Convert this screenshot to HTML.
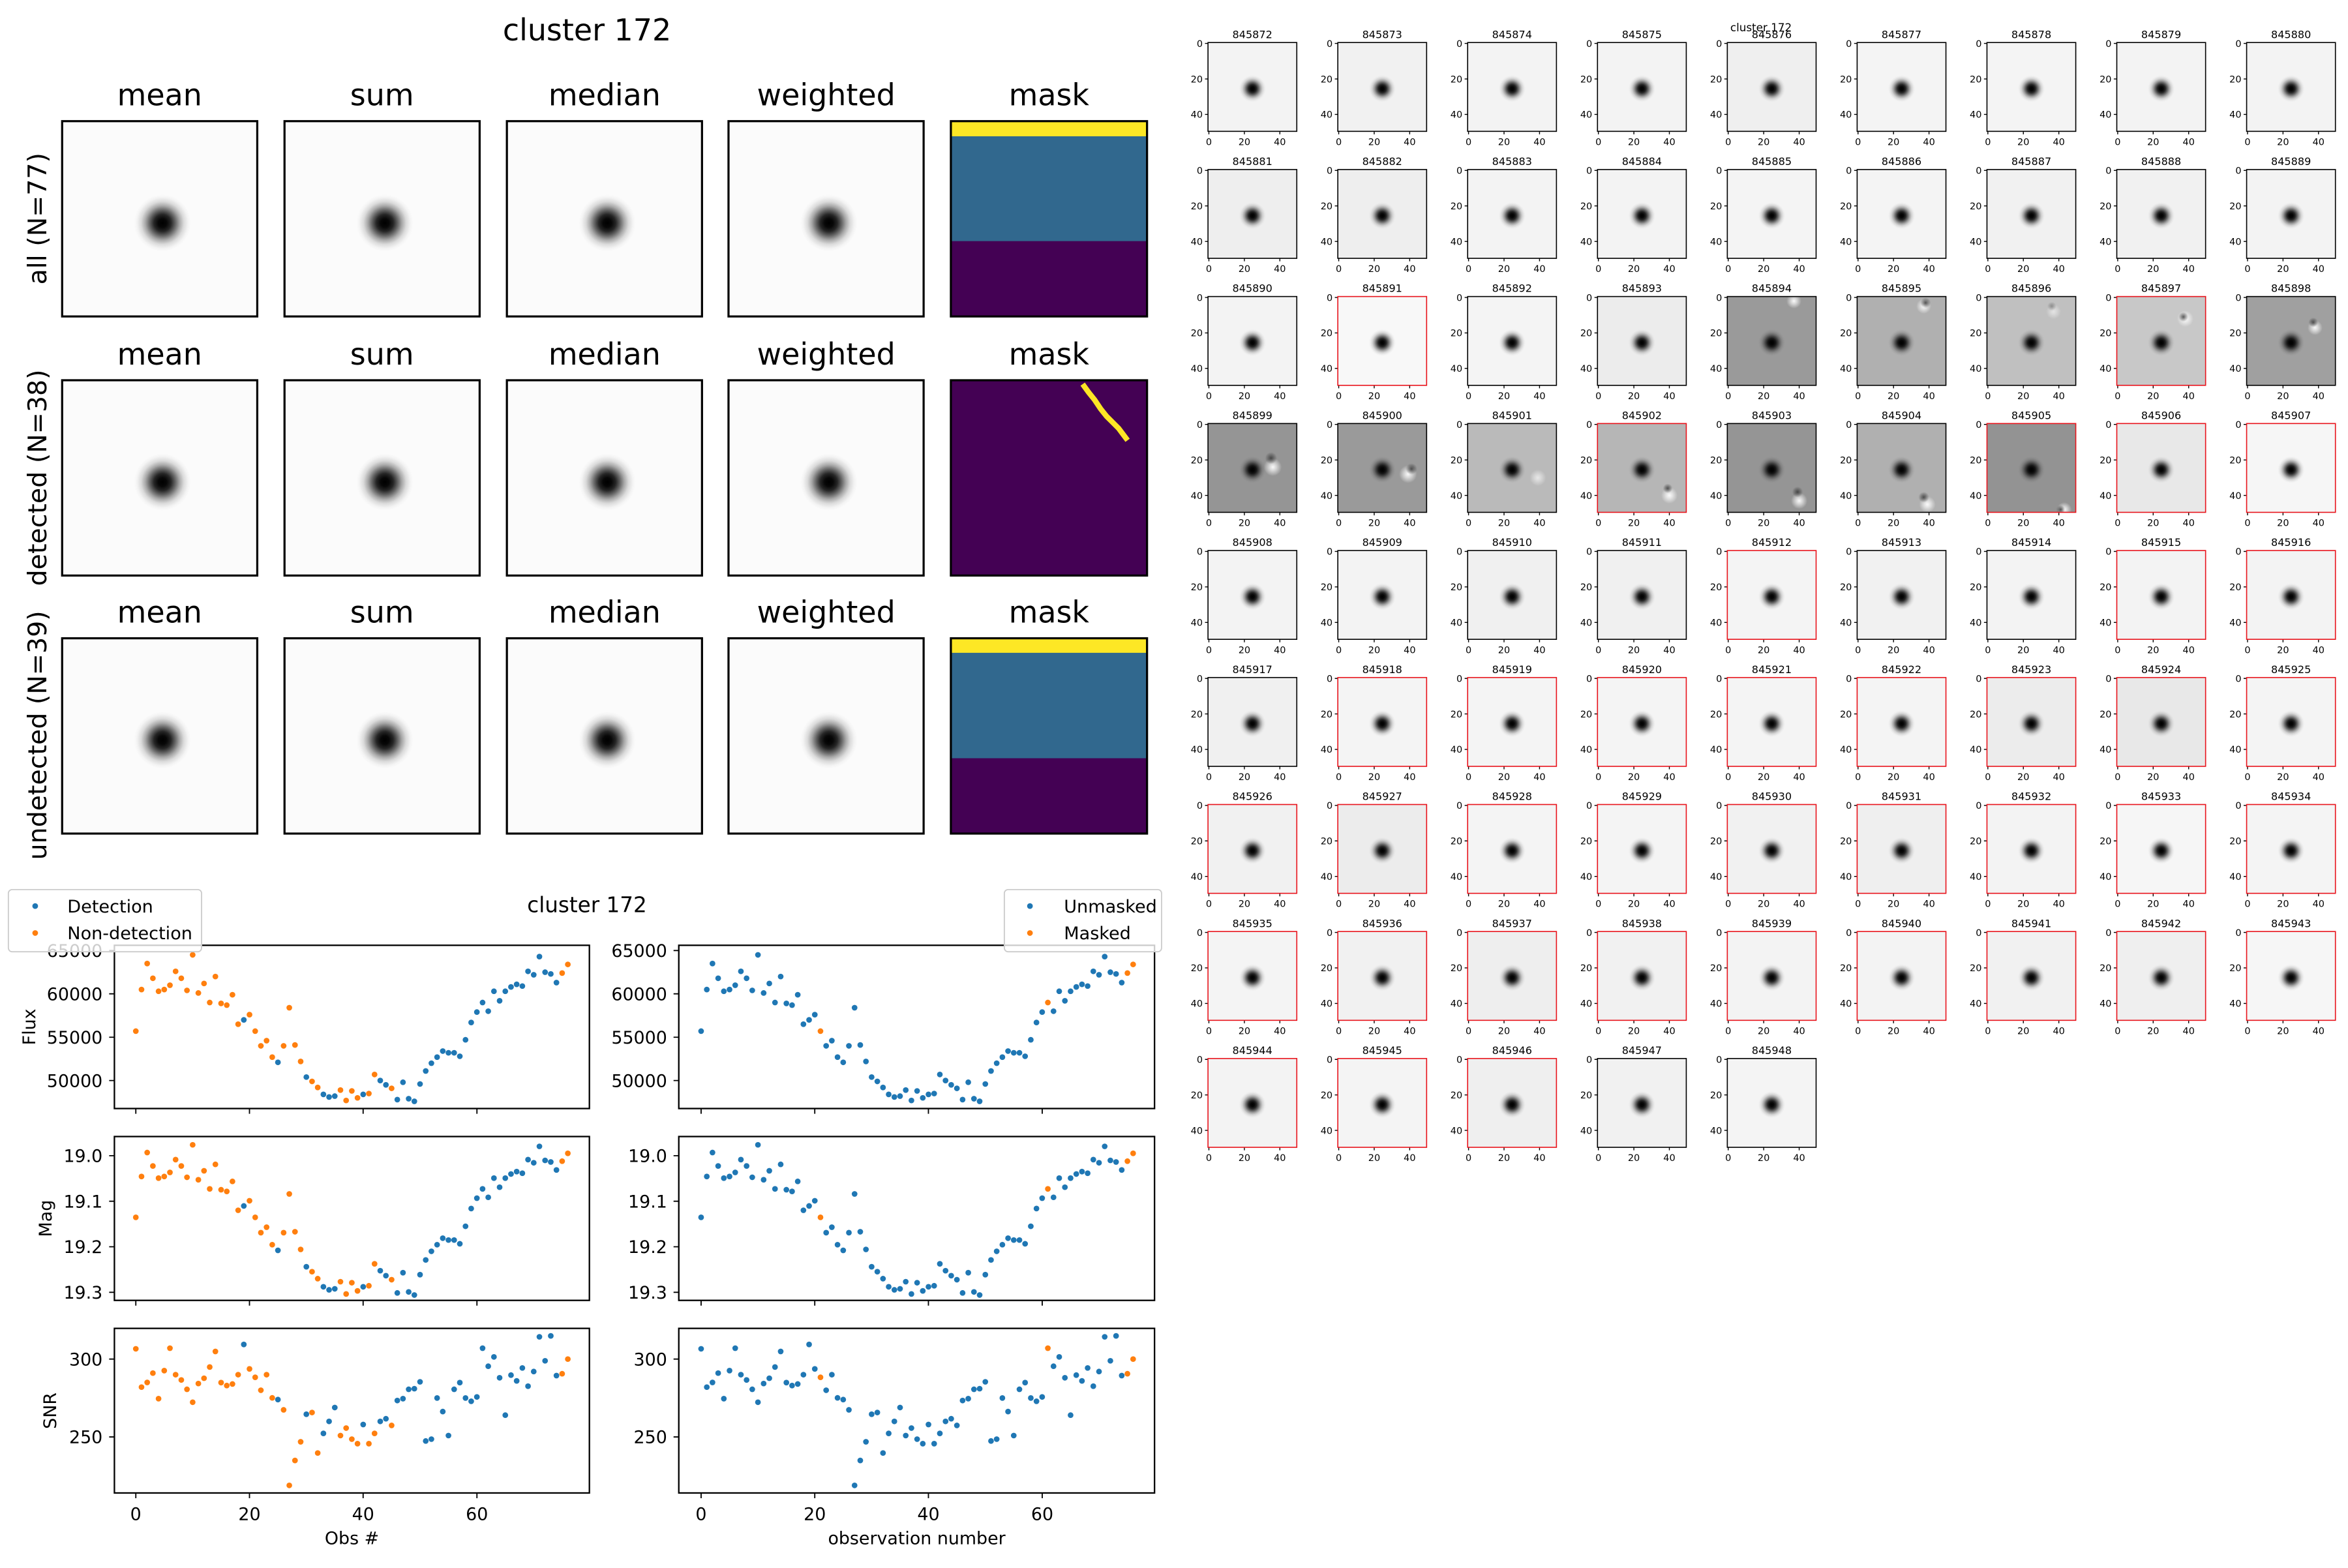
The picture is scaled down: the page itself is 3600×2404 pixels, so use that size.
<!DOCTYPE html>
<html><head><meta charset="utf-8">
<style>
html,body{margin:0;padding:0;background:#fff}
svg{display:block}
text{font-family:"DejaVu Sans","Liberation Sans",sans-serif;fill:#000}
.h{font-size:7px;text-anchor:middle}
.e{font-size:6.3px;text-anchor:end}
.m{font-size:6.3px;text-anchor:middle}
.f{fill:none;stroke:#000;stroke-width:.7}
.r{stroke:#e8141c}
.T{font-size:20px;text-anchor:middle}
.R{font-size:17.2px;text-anchor:middle}
.k{font-size:11.7px;text-anchor:end}
.kx{font-size:11.7px;text-anchor:middle}
.L{font-size:11.7px;text-anchor:middle}
.lg{font-size:11.8px}
.F{fill:none;stroke:#000;stroke-width:1}
.tk{stroke:#000;stroke-width:.8}
</style></head><body>
<svg id="S" width="3600" height="2404" viewBox="0 0 1568 1047" preserveAspectRatio="none" xmlns="http://www.w3.org/2000/svg">
<defs>
<radialGradient id="gs">
<stop offset="0" stop-color="#000" stop-opacity="1"/>
<stop offset="0.15" stop-color="#000" stop-opacity="0.97"/>
<stop offset="0.3" stop-color="#000" stop-opacity="0.85"/>
<stop offset="0.45" stop-color="#000" stop-opacity="0.6"/>
<stop offset="0.6" stop-color="#000" stop-opacity="0.33"/>
<stop offset="0.75" stop-color="#000" stop-opacity="0.13"/>
<stop offset="0.9" stop-color="#000" stop-opacity="0.03"/>
<stop offset="1" stop-color="#000" stop-opacity="0"/>
</radialGradient>
<radialGradient id="gw">
<stop offset="0" stop-color="#fff" stop-opacity="0.95"/>
<stop offset="0.4" stop-color="#fff" stop-opacity="0.6"/>
<stop offset="1" stop-color="#fff" stop-opacity="0"/>
</radialGradient>
<radialGradient id="gd">
<stop offset="0" stop-color="#333" stop-opacity="0.8"/>
<stop offset="1" stop-color="#333" stop-opacity="0"/>
</radialGradient>
<clipPath id="cp"><rect width="59.3" height="59.3"/></clipPath>
<g id="p"><circle cx="29.7" cy="30.8" r="9" fill="url(#gs)"/><path d="M0 0.6h-2M0 24.3h-2M0 48h-2M0.6 59.3v2M24.3 59.3v2M48 59.3v2" stroke="#000" stroke-width=".6"/></g>
<g id="bs"><rect width="130.3" height="130.4" fill="#fbfbfb"/><circle cx="67" cy="68" r="19" fill="url(#gs)"/><rect width="130.3" height="130.4" fill="none" stroke="#000" stroke-width="1.4"/></g>
</defs>

<text x="392" y="27" style="font-size:20px;text-anchor:middle">cluster 172</text>

<text class="T" x="106.6" y="70.4">mean</text><text class="T" x="255.1" y="70.4">sum</text><text class="T" x="403.7" y="70.4">median</text><text class="T" x="551.7" y="70.4">weighted</text><text class="T" x="700.5" y="70.4">mask</text>
<text class="T" x="106.6" y="243.4">mean</text><text class="T" x="255.1" y="243.4">sum</text><text class="T" x="403.7" y="243.4">median</text><text class="T" x="551.7" y="243.4">weighted</text><text class="T" x="700.5" y="243.4">mask</text>
<text class="T" x="106.6" y="415.7">mean</text><text class="T" x="255.1" y="415.7">sum</text><text class="T" x="403.7" y="415.7">median</text><text class="T" x="551.7" y="415.7">weighted</text><text class="T" x="700.5" y="415.7">mask</text>

<text class="R" transform="translate(31,146) rotate(-90)">all (N=77)</text>
<text class="R" transform="translate(31,319) rotate(-90)">detected (N=38)</text>
<text class="R" transform="translate(31,491) rotate(-90)">undetected (N=39)</text>

<use href="#bs" x="41.5" y="80.9"/><use href="#bs" x="190" y="80.9"/><use href="#bs" x="338.5" y="80.9"/><use href="#bs" x="486.5" y="80.9"/>
<use href="#bs" x="41.5" y="253.9"/><use href="#bs" x="190" y="253.9"/><use href="#bs" x="338.5" y="253.9"/><use href="#bs" x="486.5" y="253.9"/>
<use href="#bs" x="41.5" y="426.2"/><use href="#bs" x="190" y="426.2"/><use href="#bs" x="338.5" y="426.2"/><use href="#bs" x="486.5" y="426.2"/>

<rect x="635" y="80.9" width="131" height="130.4" fill="#440154"/>
<rect x="635" y="80.9" width="131" height="80.1" fill="#31688e"/>
<rect x="635" y="80.9" width="131" height="10.1" fill="#fde725"/>
<rect x="635" y="80.9" width="131" height="130.4" fill="none" stroke="#000" stroke-width="1.4"/>

<rect x="635" y="253.9" width="131" height="130.4" fill="#440154"/>
<path d="M723 256.5 L727 262 L731 267 L735 273 L739 278 L743 282 L747 286 L750 290 L753 294" fill="none" stroke="#fde725" stroke-width="3.6" stroke-linejoin="miter"/>
<rect x="635" y="253.9" width="131" height="130.4" fill="none" stroke="#000" stroke-width="1.4"/>

<rect x="635" y="426.2" width="131" height="130.4" fill="#440154"/>
<rect x="635" y="426.2" width="131" height="80.1" fill="#31688e"/>
<rect x="635" y="426.2" width="131" height="9.7" fill="#fde725"/>
<rect x="635" y="426.2" width="131" height="130.4" fill="none" stroke="#000" stroke-width="1.4"/>

<text x="392" y="609" style="font-size:14.2px;text-anchor:middle">cluster 172</text>

<g id="frames">
<rect class="F" x="76.4" y="631.2" width="317.2" height="109"/>
<rect class="F" x="76.4" y="758.9" width="317.2" height="109.4"/>
<rect class="F" x="76.4" y="887" width="317.2" height="109.9"/>
<rect class="F" x="453.3" y="631.2" width="317.7" height="109"/>
<rect class="F" x="453.3" y="758.9" width="317.7" height="109.4"/>
<rect class="F" x="453.3" y="887" width="317.7" height="109.9"/>
</g>
<path class="tk" d="
M76.4 634.7h-3.5M76.4 663.6h-3.5M76.4 692.6h-3.5M76.4 721.5h-3.5
M76.4 771.7h-3.5M76.4 802.1h-3.5M76.4 832.5h-3.5M76.4 862.9h-3.5
M76.4 907.5h-3.5M76.4 959.5h-3.5
M453.3 634.7h-3.5M453.3 663.6h-3.5M453.3 692.6h-3.5M453.3 721.5h-3.5
M453.3 771.7h-3.5M453.3 802.1h-3.5M453.3 832.5h-3.5M453.3 862.9h-3.5
M453.3 907.5h-3.5M453.3 959.5h-3.5
M90.7 740.2v3.5M166.6 740.2v3.5M242.5 740.2v3.5M318.5 740.2v3.5
M90.7 868.3v3.5M166.6 868.3v3.5M242.5 868.3v3.5M318.5 868.3v3.5
M90.7 996.9v3.5M166.6 996.9v3.5M242.5 996.9v3.5M318.5 996.9v3.5
M468.2 740.2v3.5M544.1 740.2v3.5M620 740.2v3.5M696 740.2v3.5
M468.2 868.3v3.5M544.1 868.3v3.5M620 868.3v3.5M696 868.3v3.5
M468.2 996.9v3.5M544.1 996.9v3.5M620 996.9v3.5M696 996.9v3.5"/>

<text class="k" x="68.5" y="638.9">65000</text><text class="k" x="68.5" y="667.8">60000</text><text class="k" x="68.5" y="696.8">55000</text><text class="k" x="68.5" y="725.7">50000</text>
<text class="k" x="68.5" y="775.9">19.0</text><text class="k" x="68.5" y="806.3">19.1</text><text class="k" x="68.5" y="836.7">19.2</text><text class="k" x="68.5" y="867.1">19.3</text>
<text class="k" x="68.5" y="911.7">300</text><text class="k" x="68.5" y="963.7">250</text>
<text class="k" x="445.5" y="638.9">65000</text><text class="k" x="445.5" y="667.8">60000</text><text class="k" x="445.5" y="696.8">55000</text><text class="k" x="445.5" y="725.7">50000</text>
<text class="k" x="445.5" y="775.9">19.0</text><text class="k" x="445.5" y="806.3">19.1</text><text class="k" x="445.5" y="836.7">19.2</text><text class="k" x="445.5" y="867.1">19.3</text>
<text class="k" x="445.5" y="911.7">300</text><text class="k" x="445.5" y="963.7">250</text>

<text class="kx" x="90.7" y="1015">0</text><text class="kx" x="166.6" y="1015">20</text><text class="kx" x="242.5" y="1015">40</text><text class="kx" x="318.5" y="1015">60</text>
<text class="kx" x="468.2" y="1015">0</text><text class="kx" x="544.1" y="1015">20</text><text class="kx" x="620" y="1015">40</text><text class="kx" x="696" y="1015">60</text>
<text class="L" x="235" y="1031">Obs #</text>
<text class="L" x="612.2" y="1031">observation number</text>
<text class="L" transform="translate(23.5,685.7) rotate(-90)">Flux</text>
<text class="L" transform="translate(34.5,813.6) rotate(-90)">Mag</text>
<text class="L" transform="translate(37.5,942) rotate(-90)">SNR</text>

<g id="dots"></g>

<rect x="5.6" y="594" width="129" height="41.5" rx="2.5" fill="#fff" fill-opacity="0.8" stroke="#cccccc" stroke-width="0.8"/>
<circle cx="23.5" cy="605" r="1.9" fill="#1f77b4"/><circle cx="23.5" cy="623" r="1.9" fill="#ff7f0e"/>
<text class="lg" x="45" y="609.2">Detection</text><text class="lg" x="45" y="627.2">Non-detection</text>
<rect x="670.7" y="594" width="105" height="41.5" rx="2.5" fill="#fff" fill-opacity="0.8" stroke="#cccccc" stroke-width="0.8"/>
<circle cx="687.8" cy="605" r="1.9" fill="#1f77b4"/><circle cx="687.8" cy="623" r="1.9" fill="#ff7f0e"/>
<text class="lg" x="710.5" y="609.2">Unmasked</text><text class="lg" x="710.5" y="627.2">Masked</text>

<text x="1176" y="21" style="font-size:7.3px;text-anchor:middle">cluster 172</text>

<g transform="translate(806.7,28.4)"><rect width="59.3" height="59.3" fill="#f3f3f3"/><use href="#p"/><rect class="f" width="59.3" height="59.3"/><text class="h" x="29.65" y="-3">845872</text><text class="e"><tspan x="-3.5" y="2.9">0</tspan><tspan x="-3.5" y="26.6">20</tspan><tspan x="-3.5" y="50.3">40</tspan></text><text class="m"><tspan x="0.6" y="68.5">0</tspan><tspan x="24.3" y="68.5">20</tspan><tspan x="48" y="68.5">40</tspan></text></g>
<g transform="translate(893.4,28.4)"><rect width="59.3" height="59.3" fill="#f1f1f1"/><use href="#p"/><rect class="f" width="59.3" height="59.3"/><text class="h" x="29.65" y="-3">845873</text><text class="e"><tspan x="-3.5" y="2.9">0</tspan><tspan x="-3.5" y="26.6">20</tspan><tspan x="-3.5" y="50.3">40</tspan></text><text class="m"><tspan x="0.6" y="68.5">0</tspan><tspan x="24.3" y="68.5">20</tspan><tspan x="48" y="68.5">40</tspan></text></g>
<g transform="translate(980.1,28.4)"><rect width="59.3" height="59.3" fill="#f3f3f3"/><use href="#p"/><rect class="f" width="59.3" height="59.3"/><text class="h" x="29.65" y="-3">845874</text><text class="e"><tspan x="-3.5" y="2.9">0</tspan><tspan x="-3.5" y="26.6">20</tspan><tspan x="-3.5" y="50.3">40</tspan></text><text class="m"><tspan x="0.6" y="68.5">0</tspan><tspan x="24.3" y="68.5">20</tspan><tspan x="48" y="68.5">40</tspan></text></g>
<g transform="translate(1066.8,28.4)"><rect width="59.3" height="59.3" fill="#f3f3f3"/><use href="#p"/><rect class="f" width="59.3" height="59.3"/><text class="h" x="29.65" y="-3">845875</text><text class="e"><tspan x="-3.5" y="2.9">0</tspan><tspan x="-3.5" y="26.6">20</tspan><tspan x="-3.5" y="50.3">40</tspan></text><text class="m"><tspan x="0.6" y="68.5">0</tspan><tspan x="24.3" y="68.5">20</tspan><tspan x="48" y="68.5">40</tspan></text></g>
<g transform="translate(1153.5,28.4)"><rect width="59.3" height="59.3" fill="#efefef"/><use href="#p"/><rect class="f" width="59.3" height="59.3"/><text class="h" x="29.65" y="-3">845876</text><text class="e"><tspan x="-3.5" y="2.9">0</tspan><tspan x="-3.5" y="26.6">20</tspan><tspan x="-3.5" y="50.3">40</tspan></text><text class="m"><tspan x="0.6" y="68.5">0</tspan><tspan x="24.3" y="68.5">20</tspan><tspan x="48" y="68.5">40</tspan></text></g>
<g transform="translate(1240.2,28.4)"><rect width="59.3" height="59.3" fill="#f4f4f4"/><use href="#p"/><rect class="f" width="59.3" height="59.3"/><text class="h" x="29.65" y="-3">845877</text><text class="e"><tspan x="-3.5" y="2.9">0</tspan><tspan x="-3.5" y="26.6">20</tspan><tspan x="-3.5" y="50.3">40</tspan></text><text class="m"><tspan x="0.6" y="68.5">0</tspan><tspan x="24.3" y="68.5">20</tspan><tspan x="48" y="68.5">40</tspan></text></g>
<g transform="translate(1326.9,28.4)"><rect width="59.3" height="59.3" fill="#f4f4f4"/><use href="#p"/><rect class="f" width="59.3" height="59.3"/><text class="h" x="29.65" y="-3">845878</text><text class="e"><tspan x="-3.5" y="2.9">0</tspan><tspan x="-3.5" y="26.6">20</tspan><tspan x="-3.5" y="50.3">40</tspan></text><text class="m"><tspan x="0.6" y="68.5">0</tspan><tspan x="24.3" y="68.5">20</tspan><tspan x="48" y="68.5">40</tspan></text></g>
<g transform="translate(1413.6,28.4)"><rect width="59.3" height="59.3" fill="#f3f3f3"/><use href="#p"/><rect class="f" width="59.3" height="59.3"/><text class="h" x="29.65" y="-3">845879</text><text class="e"><tspan x="-3.5" y="2.9">0</tspan><tspan x="-3.5" y="26.6">20</tspan><tspan x="-3.5" y="50.3">40</tspan></text><text class="m"><tspan x="0.6" y="68.5">0</tspan><tspan x="24.3" y="68.5">20</tspan><tspan x="48" y="68.5">40</tspan></text></g>
<g transform="translate(1500.3,28.4)"><rect width="59.3" height="59.3" fill="#f3f3f3"/><use href="#p"/><rect class="f" width="59.3" height="59.3"/><text class="h" x="29.65" y="-3">845880</text><text class="e"><tspan x="-3.5" y="2.9">0</tspan><tspan x="-3.5" y="26.6">20</tspan><tspan x="-3.5" y="50.3">40</tspan></text><text class="m"><tspan x="0.6" y="68.5">0</tspan><tspan x="24.3" y="68.5">20</tspan><tspan x="48" y="68.5">40</tspan></text></g>

<g transform="translate(806.7,113.2)"><rect width="59.3" height="59.3" fill="#eeeeee"/><use href="#p"/><rect class="f" width="59.3" height="59.3"/><text class="h" x="29.65" y="-3">845881</text><text class="e"><tspan x="-3.5" y="2.9">0</tspan><tspan x="-3.5" y="26.6">20</tspan><tspan x="-3.5" y="50.3">40</tspan></text><text class="m"><tspan x="0.6" y="68.5">0</tspan><tspan x="24.3" y="68.5">20</tspan><tspan x="48" y="68.5">40</tspan></text></g>
<g transform="translate(893.4,113.2)"><rect width="59.3" height="59.3" fill="#eeeeee"/><use href="#p"/><rect class="f" width="59.3" height="59.3"/><text class="h" x="29.65" y="-3">845882</text><text class="e"><tspan x="-3.5" y="2.9">0</tspan><tspan x="-3.5" y="26.6">20</tspan><tspan x="-3.5" y="50.3">40</tspan></text><text class="m"><tspan x="0.6" y="68.5">0</tspan><tspan x="24.3" y="68.5">20</tspan><tspan x="48" y="68.5">40</tspan></text></g>
<g transform="translate(980.1,113.2)"><rect width="59.3" height="59.3" fill="#f3f3f3"/><use href="#p"/><rect class="f" width="59.3" height="59.3"/><text class="h" x="29.65" y="-3">845883</text><text class="e"><tspan x="-3.5" y="2.9">0</tspan><tspan x="-3.5" y="26.6">20</tspan><tspan x="-3.5" y="50.3">40</tspan></text><text class="m"><tspan x="0.6" y="68.5">0</tspan><tspan x="24.3" y="68.5">20</tspan><tspan x="48" y="68.5">40</tspan></text></g>
<g transform="translate(1066.8,113.2)"><rect width="59.3" height="59.3" fill="#f3f3f3"/><use href="#p"/><rect class="f" width="59.3" height="59.3"/><text class="h" x="29.65" y="-3">845884</text><text class="e"><tspan x="-3.5" y="2.9">0</tspan><tspan x="-3.5" y="26.6">20</tspan><tspan x="-3.5" y="50.3">40</tspan></text><text class="m"><tspan x="0.6" y="68.5">0</tspan><tspan x="24.3" y="68.5">20</tspan><tspan x="48" y="68.5">40</tspan></text></g>
<g transform="translate(1153.5,113.2)"><rect width="59.3" height="59.3" fill="#f4f4f4"/><use href="#p"/><rect class="f" width="59.3" height="59.3"/><text class="h" x="29.65" y="-3">845885</text><text class="e"><tspan x="-3.5" y="2.9">0</tspan><tspan x="-3.5" y="26.6">20</tspan><tspan x="-3.5" y="50.3">40</tspan></text><text class="m"><tspan x="0.6" y="68.5">0</tspan><tspan x="24.3" y="68.5">20</tspan><tspan x="48" y="68.5">40</tspan></text></g>
<g transform="translate(1240.2,113.2)"><rect width="59.3" height="59.3" fill="#f4f4f4"/><use href="#p"/><rect class="f" width="59.3" height="59.3"/><text class="h" x="29.65" y="-3">845886</text><text class="e"><tspan x="-3.5" y="2.9">0</tspan><tspan x="-3.5" y="26.6">20</tspan><tspan x="-3.5" y="50.3">40</tspan></text><text class="m"><tspan x="0.6" y="68.5">0</tspan><tspan x="24.3" y="68.5">20</tspan><tspan x="48" y="68.5">40</tspan></text></g>
<g transform="translate(1326.9,113.2)"><rect width="59.3" height="59.3" fill="#f1f1f1"/><use href="#p"/><rect class="f" width="59.3" height="59.3"/><text class="h" x="29.65" y="-3">845887</text><text class="e"><tspan x="-3.5" y="2.9">0</tspan><tspan x="-3.5" y="26.6">20</tspan><tspan x="-3.5" y="50.3">40</tspan></text><text class="m"><tspan x="0.6" y="68.5">0</tspan><tspan x="24.3" y="68.5">20</tspan><tspan x="48" y="68.5">40</tspan></text></g>
<g transform="translate(1413.6,113.2)"><rect width="59.3" height="59.3" fill="#f1f1f1"/><use href="#p"/><rect class="f" width="59.3" height="59.3"/><text class="h" x="29.65" y="-3">845888</text><text class="e"><tspan x="-3.5" y="2.9">0</tspan><tspan x="-3.5" y="26.6">20</tspan><tspan x="-3.5" y="50.3">40</tspan></text><text class="m"><tspan x="0.6" y="68.5">0</tspan><tspan x="24.3" y="68.5">20</tspan><tspan x="48" y="68.5">40</tspan></text></g>
<g transform="translate(1500.3,113.2)"><rect width="59.3" height="59.3" fill="#f3f3f3"/><use href="#p"/><rect class="f" width="59.3" height="59.3"/><text class="h" x="29.65" y="-3">845889</text><text class="e"><tspan x="-3.5" y="2.9">0</tspan><tspan x="-3.5" y="26.6">20</tspan><tspan x="-3.5" y="50.3">40</tspan></text><text class="m"><tspan x="0.6" y="68.5">0</tspan><tspan x="24.3" y="68.5">20</tspan><tspan x="48" y="68.5">40</tspan></text></g>

<g transform="translate(806.7,198)"><rect width="59.3" height="59.3" fill="#f3f3f3"/><use href="#p"/><rect class="f" width="59.3" height="59.3"/><text class="h" x="29.65" y="-3">845890</text><text class="e"><tspan x="-3.5" y="2.9">0</tspan><tspan x="-3.5" y="26.6">20</tspan><tspan x="-3.5" y="50.3">40</tspan></text><text class="m"><tspan x="0.6" y="68.5">0</tspan><tspan x="24.3" y="68.5">20</tspan><tspan x="48" y="68.5">40</tspan></text></g>
<g transform="translate(893.4,198)"><rect width="59.3" height="59.3" fill="#f8f8f8"/><use href="#p"/><rect class="f r" width="59.3" height="59.3"/><text class="h" x="29.65" y="-3">845891</text><text class="e"><tspan x="-3.5" y="2.9">0</tspan><tspan x="-3.5" y="26.6">20</tspan><tspan x="-3.5" y="50.3">40</tspan></text><text class="m"><tspan x="0.6" y="68.5">0</tspan><tspan x="24.3" y="68.5">20</tspan><tspan x="48" y="68.5">40</tspan></text></g>
<g transform="translate(980.1,198)"><rect width="59.3" height="59.3" fill="#f4f4f4"/><use href="#p"/><rect class="f" width="59.3" height="59.3"/><text class="h" x="29.65" y="-3">845892</text><text class="e"><tspan x="-3.5" y="2.9">0</tspan><tspan x="-3.5" y="26.6">20</tspan><tspan x="-3.5" y="50.3">40</tspan></text><text class="m"><tspan x="0.6" y="68.5">0</tspan><tspan x="24.3" y="68.5">20</tspan><tspan x="48" y="68.5">40</tspan></text></g>
<g transform="translate(1066.8,198)"><rect width="59.3" height="59.3" fill="#ececec"/><use href="#p"/><rect class="f" width="59.3" height="59.3"/><text class="h" x="29.65" y="-3">845893</text><text class="e"><tspan x="-3.5" y="2.9">0</tspan><tspan x="-3.5" y="26.6">20</tspan><tspan x="-3.5" y="50.3">40</tspan></text><text class="m"><tspan x="0.6" y="68.5">0</tspan><tspan x="24.3" y="68.5">20</tspan><tspan x="48" y="68.5">40</tspan></text></g>
<g transform="translate(1153.5,198)"><rect width="59.3" height="59.3" fill="#9a9a9a"/><use href="#p"/><g clip-path="url(#cp)"><circle cx="44.5" cy="3" r="5" fill="url(#gw)"/></g><rect class="f" width="59.3" height="59.3"/><text class="h" x="29.65" y="-3">845894</text><text class="e"><tspan x="-3.5" y="2.9">0</tspan><tspan x="-3.5" y="26.6">20</tspan><tspan x="-3.5" y="50.3">40</tspan></text><text class="m"><tspan x="0.6" y="68.5">0</tspan><tspan x="24.3" y="68.5">20</tspan><tspan x="48" y="68.5">40</tspan></text></g>
<g transform="translate(1240.2,198)"><rect width="59.3" height="59.3" fill="#b0b0b0"/><use href="#p"/><g clip-path="url(#cp)"><circle cx="44.5" cy="6.5" r="5" fill="url(#gw)"/><circle cx="45.7" cy="4.2" r="3.5" fill="url(#gd)"/></g><rect class="f" width="59.3" height="59.3"/><text class="h" x="29.65" y="-3">845895</text><text class="e"><tspan x="-3.5" y="2.9">0</tspan><tspan x="-3.5" y="26.6">20</tspan><tspan x="-3.5" y="50.3">40</tspan></text><text class="m"><tspan x="0.6" y="68.5">0</tspan><tspan x="24.3" y="68.5">20</tspan><tspan x="48" y="68.5">40</tspan></text></g>
<g transform="translate(1326.9,198)"><rect width="59.3" height="59.3" fill="#c0c0c0"/><use href="#p"/><g clip-path="url(#cp)"><circle cx="44.5" cy="10.1" r="5" fill="url(#gw)" opacity=".6"/><circle cx="43.3" cy="6.5" r="3" fill="url(#gd)" opacity=".5"/></g><rect class="f" width="59.3" height="59.3"/><text class="h" x="29.65" y="-3">845896</text><text class="e"><tspan x="-3.5" y="2.9">0</tspan><tspan x="-3.5" y="26.6">20</tspan><tspan x="-3.5" y="50.3">40</tspan></text><text class="m"><tspan x="0.6" y="68.5">0</tspan><tspan x="24.3" y="68.5">20</tspan><tspan x="48" y="68.5">40</tspan></text></g>
<g transform="translate(1413.6,198)"><rect width="59.3" height="59.3" fill="#c8c8c8"/><use href="#p"/><g clip-path="url(#cp)"><circle cx="45.7" cy="14.8" r="5.5" fill="url(#gw)"/><circle cx="44.5" cy="13.6" r="3.2" fill="url(#gd)"/></g><rect class="f r" width="59.3" height="59.3"/><text class="h" x="29.65" y="-3">845897</text><text class="e"><tspan x="-3.5" y="2.9">0</tspan><tspan x="-3.5" y="26.6">20</tspan><tspan x="-3.5" y="50.3">40</tspan></text><text class="m"><tspan x="0.6" y="68.5">0</tspan><tspan x="24.3" y="68.5">20</tspan><tspan x="48" y="68.5">40</tspan></text></g>
<g transform="translate(1500.3,198)"><rect width="59.3" height="59.3" fill="#a0a0a0"/><use href="#p"/><g clip-path="url(#cp)"><circle cx="45.7" cy="20.8" r="5" fill="url(#gw)"/><circle cx="44.5" cy="17.2" r="3.2" fill="url(#gd)"/></g><rect class="f" width="59.3" height="59.3"/><text class="h" x="29.65" y="-3">845898</text><text class="e"><tspan x="-3.5" y="2.9">0</tspan><tspan x="-3.5" y="26.6">20</tspan><tspan x="-3.5" y="50.3">40</tspan></text><text class="m"><tspan x="0.6" y="68.5">0</tspan><tspan x="24.3" y="68.5">20</tspan><tspan x="48" y="68.5">40</tspan></text></g>

<g transform="translate(806.7,282.8)"><rect width="59.3" height="59.3" fill="#959595"/><use href="#p"/><g clip-path="url(#cp)"><circle cx="43.3" cy="29.1" r="6" fill="url(#gw)"/><circle cx="42.1" cy="23.1" r="4" fill="url(#gd)"/></g><rect class="f" width="59.3" height="59.3"/><text class="h" x="29.65" y="-3">845899</text><text class="e"><tspan x="-3.5" y="2.9">0</tspan><tspan x="-3.5" y="26.6">20</tspan><tspan x="-3.5" y="50.3">40</tspan></text><text class="m"><tspan x="0.6" y="68.5">0</tspan><tspan x="24.3" y="68.5">20</tspan><tspan x="48" y="68.5">40</tspan></text></g>
<g transform="translate(893.4,282.8)"><rect width="59.3" height="59.3" fill="#9a9a9a"/><use href="#p"/><g clip-path="url(#cp)"><circle cx="46.9" cy="33.8" r="6" fill="url(#gw)"/><circle cx="49.2" cy="30.3" r="3.8" fill="url(#gd)"/></g><rect class="f" width="59.3" height="59.3"/><text class="h" x="29.65" y="-3">845900</text><text class="e"><tspan x="-3.5" y="2.9">0</tspan><tspan x="-3.5" y="26.6">20</tspan><tspan x="-3.5" y="50.3">40</tspan></text><text class="m"><tspan x="0.6" y="68.5">0</tspan><tspan x="24.3" y="68.5">20</tspan><tspan x="48" y="68.5">40</tspan></text></g>
<g transform="translate(980.1,282.8)"><rect width="59.3" height="59.3" fill="#bababa"/><use href="#p"/><g clip-path="url(#cp)"><circle cx="46.9" cy="36.2" r="5.5" fill="url(#gw)" opacity=".7"/></g><rect class="f" width="59.3" height="59.3"/><text class="h" x="29.65" y="-3">845901</text><text class="e"><tspan x="-3.5" y="2.9">0</tspan><tspan x="-3.5" y="26.6">20</tspan><tspan x="-3.5" y="50.3">40</tspan></text><text class="m"><tspan x="0.6" y="68.5">0</tspan><tspan x="24.3" y="68.5">20</tspan><tspan x="48" y="68.5">40</tspan></text></g>
<g transform="translate(1066.8,282.8)"><rect width="59.3" height="59.3" fill="#b6b6b6"/><use href="#p"/><g clip-path="url(#cp)"><circle cx="48" cy="48" r="5.5" fill="url(#gw)"/><circle cx="46.9" cy="43.3" r="3.2" fill="url(#gd)"/></g><rect class="f r" width="59.3" height="59.3"/><text class="h" x="29.65" y="-3">845902</text><text class="e"><tspan x="-3.5" y="2.9">0</tspan><tspan x="-3.5" y="26.6">20</tspan><tspan x="-3.5" y="50.3">40</tspan></text><text class="m"><tspan x="0.6" y="68.5">0</tspan><tspan x="24.3" y="68.5">20</tspan><tspan x="48" y="68.5">40</tspan></text></g>
<g transform="translate(1153.5,282.8)"><rect width="59.3" height="59.3" fill="#959595"/><use href="#p"/><g clip-path="url(#cp)"><circle cx="48" cy="51.6" r="5.5" fill="url(#gw)"/><circle cx="46.9" cy="45.7" r="3.6" fill="url(#gd)"/></g><rect class="f" width="59.3" height="59.3"/><text class="h" x="29.65" y="-3">845903</text><text class="e"><tspan x="-3.5" y="2.9">0</tspan><tspan x="-3.5" y="26.6">20</tspan><tspan x="-3.5" y="50.3">40</tspan></text><text class="m"><tspan x="0.6" y="68.5">0</tspan><tspan x="24.3" y="68.5">20</tspan><tspan x="48" y="68.5">40</tspan></text></g>
<g transform="translate(1240.2,282.8)"><rect width="59.3" height="59.3" fill="#b0b0b0"/><use href="#p"/><g clip-path="url(#cp)"><circle cx="46.9" cy="54" r="5.5" fill="url(#gw)"/><circle cx="44.5" cy="49.2" r="3.6" fill="url(#gd)"/></g><rect class="f" width="59.3" height="59.3"/><text class="h" x="29.65" y="-3">845904</text><text class="e"><tspan x="-3.5" y="2.9">0</tspan><tspan x="-3.5" y="26.6">20</tspan><tspan x="-3.5" y="50.3">40</tspan></text><text class="m"><tspan x="0.6" y="68.5">0</tspan><tspan x="24.3" y="68.5">20</tspan><tspan x="48" y="68.5">40</tspan></text></g>
<g transform="translate(1326.9,282.8)"><rect width="59.3" height="59.3" fill="#939393"/><use href="#p"/><g clip-path="url(#cp)"><circle cx="51.6" cy="57.5" r="5" fill="url(#gw)"/><circle cx="49.2" cy="57.5" r="3" fill="url(#gd)"/></g><rect class="f r" width="59.3" height="59.3"/><text class="h" x="29.65" y="-3">845905</text><text class="e"><tspan x="-3.5" y="2.9">0</tspan><tspan x="-3.5" y="26.6">20</tspan><tspan x="-3.5" y="50.3">40</tspan></text><text class="m"><tspan x="0.6" y="68.5">0</tspan><tspan x="24.3" y="68.5">20</tspan><tspan x="48" y="68.5">40</tspan></text></g>
<g transform="translate(1413.6,282.8)"><rect width="59.3" height="59.3" fill="#e8e8e8"/><use href="#p"/><rect class="f r" width="59.3" height="59.3"/><text class="h" x="29.65" y="-3">845906</text><text class="e"><tspan x="-3.5" y="2.9">0</tspan><tspan x="-3.5" y="26.6">20</tspan><tspan x="-3.5" y="50.3">40</tspan></text><text class="m"><tspan x="0.6" y="68.5">0</tspan><tspan x="24.3" y="68.5">20</tspan><tspan x="48" y="68.5">40</tspan></text></g>
<g transform="translate(1500.3,282.8)"><rect width="59.3" height="59.3" fill="#f6f6f6"/><use href="#p"/><rect class="f r" width="59.3" height="59.3"/><text class="h" x="29.65" y="-3">845907</text><text class="e"><tspan x="-3.5" y="2.9">0</tspan><tspan x="-3.5" y="26.6">20</tspan><tspan x="-3.5" y="50.3">40</tspan></text><text class="m"><tspan x="0.6" y="68.5">0</tspan><tspan x="24.3" y="68.5">20</tspan><tspan x="48" y="68.5">40</tspan></text></g>

<g transform="translate(806.7,367.6)"><rect width="59.3" height="59.3" fill="#f3f3f3"/><use href="#p"/><rect class="f" width="59.3" height="59.3"/><text class="h" x="29.65" y="-3">845908</text><text class="e"><tspan x="-3.5" y="2.9">0</tspan><tspan x="-3.5" y="26.6">20</tspan><tspan x="-3.5" y="50.3">40</tspan></text><text class="m"><tspan x="0.6" y="68.5">0</tspan><tspan x="24.3" y="68.5">20</tspan><tspan x="48" y="68.5">40</tspan></text></g>
<g transform="translate(893.4,367.6)"><rect width="59.3" height="59.3" fill="#f3f3f3"/><use href="#p"/><rect class="f" width="59.3" height="59.3"/><text class="h" x="29.65" y="-3">845909</text><text class="e"><tspan x="-3.5" y="2.9">0</tspan><tspan x="-3.5" y="26.6">20</tspan><tspan x="-3.5" y="50.3">40</tspan></text><text class="m"><tspan x="0.6" y="68.5">0</tspan><tspan x="24.3" y="68.5">20</tspan><tspan x="48" y="68.5">40</tspan></text></g>
<g transform="translate(980.1,367.6)"><rect width="59.3" height="59.3" fill="#f0f0f0"/><use href="#p"/><rect class="f" width="59.3" height="59.3"/><text class="h" x="29.65" y="-3">845910</text><text class="e"><tspan x="-3.5" y="2.9">0</tspan><tspan x="-3.5" y="26.6">20</tspan><tspan x="-3.5" y="50.3">40</tspan></text><text class="m"><tspan x="0.6" y="68.5">0</tspan><tspan x="24.3" y="68.5">20</tspan><tspan x="48" y="68.5">40</tspan></text></g>
<g transform="translate(1066.8,367.6)"><rect width="59.3" height="59.3" fill="#f0f0f0"/><use href="#p"/><rect class="f" width="59.3" height="59.3"/><text class="h" x="29.65" y="-3">845911</text><text class="e"><tspan x="-3.5" y="2.9">0</tspan><tspan x="-3.5" y="26.6">20</tspan><tspan x="-3.5" y="50.3">40</tspan></text><text class="m"><tspan x="0.6" y="68.5">0</tspan><tspan x="24.3" y="68.5">20</tspan><tspan x="48" y="68.5">40</tspan></text></g>
<g transform="translate(1153.5,367.6)"><rect width="59.3" height="59.3" fill="#f4f4f4"/><use href="#p"/><rect class="f r" width="59.3" height="59.3"/><text class="h" x="29.65" y="-3">845912</text><text class="e"><tspan x="-3.5" y="2.9">0</tspan><tspan x="-3.5" y="26.6">20</tspan><tspan x="-3.5" y="50.3">40</tspan></text><text class="m"><tspan x="0.6" y="68.5">0</tspan><tspan x="24.3" y="68.5">20</tspan><tspan x="48" y="68.5">40</tspan></text></g>
<g transform="translate(1240.2,367.6)"><rect width="59.3" height="59.3" fill="#f1f1f1"/><use href="#p"/><rect class="f" width="59.3" height="59.3"/><text class="h" x="29.65" y="-3">845913</text><text class="e"><tspan x="-3.5" y="2.9">0</tspan><tspan x="-3.5" y="26.6">20</tspan><tspan x="-3.5" y="50.3">40</tspan></text><text class="m"><tspan x="0.6" y="68.5">0</tspan><tspan x="24.3" y="68.5">20</tspan><tspan x="48" y="68.5">40</tspan></text></g>
<g transform="translate(1326.9,367.6)"><rect width="59.3" height="59.3" fill="#f3f3f3"/><use href="#p"/><rect class="f" width="59.3" height="59.3"/><text class="h" x="29.65" y="-3">845914</text><text class="e"><tspan x="-3.5" y="2.9">0</tspan><tspan x="-3.5" y="26.6">20</tspan><tspan x="-3.5" y="50.3">40</tspan></text><text class="m"><tspan x="0.6" y="68.5">0</tspan><tspan x="24.3" y="68.5">20</tspan><tspan x="48" y="68.5">40</tspan></text></g>
<g transform="translate(1413.6,367.6)"><rect width="59.3" height="59.3" fill="#f3f3f3"/><use href="#p"/><rect class="f r" width="59.3" height="59.3"/><text class="h" x="29.65" y="-3">845915</text><text class="e"><tspan x="-3.5" y="2.9">0</tspan><tspan x="-3.5" y="26.6">20</tspan><tspan x="-3.5" y="50.3">40</tspan></text><text class="m"><tspan x="0.6" y="68.5">0</tspan><tspan x="24.3" y="68.5">20</tspan><tspan x="48" y="68.5">40</tspan></text></g>
<g transform="translate(1500.3,367.6)"><rect width="59.3" height="59.3" fill="#f3f3f3"/><use href="#p"/><rect class="f r" width="59.3" height="59.3"/><text class="h" x="29.65" y="-3">845916</text><text class="e"><tspan x="-3.5" y="2.9">0</tspan><tspan x="-3.5" y="26.6">20</tspan><tspan x="-3.5" y="50.3">40</tspan></text><text class="m"><tspan x="0.6" y="68.5">0</tspan><tspan x="24.3" y="68.5">20</tspan><tspan x="48" y="68.5">40</tspan></text></g>

<g transform="translate(806.7,452.4)"><rect width="59.3" height="59.3" fill="#f0f0f0"/><use href="#p"/><rect class="f" width="59.3" height="59.3"/><text class="h" x="29.65" y="-3">845917</text><text class="e"><tspan x="-3.5" y="2.9">0</tspan><tspan x="-3.5" y="26.6">20</tspan><tspan x="-3.5" y="50.3">40</tspan></text><text class="m"><tspan x="0.6" y="68.5">0</tspan><tspan x="24.3" y="68.5">20</tspan><tspan x="48" y="68.5">40</tspan></text></g>
<g transform="translate(893.4,452.4)"><rect width="59.3" height="59.3" fill="#f4f4f4"/><use href="#p"/><rect class="f r" width="59.3" height="59.3"/><text class="h" x="29.65" y="-3">845918</text><text class="e"><tspan x="-3.5" y="2.9">0</tspan><tspan x="-3.5" y="26.6">20</tspan><tspan x="-3.5" y="50.3">40</tspan></text><text class="m"><tspan x="0.6" y="68.5">0</tspan><tspan x="24.3" y="68.5">20</tspan><tspan x="48" y="68.5">40</tspan></text></g>
<g transform="translate(980.1,452.4)"><rect width="59.3" height="59.3" fill="#f4f4f4"/><use href="#p"/><rect class="f r" width="59.3" height="59.3"/><text class="h" x="29.65" y="-3">845919</text><text class="e"><tspan x="-3.5" y="2.9">0</tspan><tspan x="-3.5" y="26.6">20</tspan><tspan x="-3.5" y="50.3">40</tspan></text><text class="m"><tspan x="0.6" y="68.5">0</tspan><tspan x="24.3" y="68.5">20</tspan><tspan x="48" y="68.5">40</tspan></text></g>
<g transform="translate(1066.8,452.4)"><rect width="59.3" height="59.3" fill="#f4f4f4"/><use href="#p"/><rect class="f r" width="59.3" height="59.3"/><text class="h" x="29.65" y="-3">845920</text><text class="e"><tspan x="-3.5" y="2.9">0</tspan><tspan x="-3.5" y="26.6">20</tspan><tspan x="-3.5" y="50.3">40</tspan></text><text class="m"><tspan x="0.6" y="68.5">0</tspan><tspan x="24.3" y="68.5">20</tspan><tspan x="48" y="68.5">40</tspan></text></g>
<g transform="translate(1153.5,452.4)"><rect width="59.3" height="59.3" fill="#f4f4f4"/><use href="#p"/><rect class="f r" width="59.3" height="59.3"/><text class="h" x="29.65" y="-3">845921</text><text class="e"><tspan x="-3.5" y="2.9">0</tspan><tspan x="-3.5" y="26.6">20</tspan><tspan x="-3.5" y="50.3">40</tspan></text><text class="m"><tspan x="0.6" y="68.5">0</tspan><tspan x="24.3" y="68.5">20</tspan><tspan x="48" y="68.5">40</tspan></text></g>
<g transform="translate(1240.2,452.4)"><rect width="59.3" height="59.3" fill="#f4f4f4"/><use href="#p"/><rect class="f r" width="59.3" height="59.3"/><text class="h" x="29.65" y="-3">845922</text><text class="e"><tspan x="-3.5" y="2.9">0</tspan><tspan x="-3.5" y="26.6">20</tspan><tspan x="-3.5" y="50.3">40</tspan></text><text class="m"><tspan x="0.6" y="68.5">0</tspan><tspan x="24.3" y="68.5">20</tspan><tspan x="48" y="68.5">40</tspan></text></g>
<g transform="translate(1326.9,452.4)"><rect width="59.3" height="59.3" fill="#ececec"/><use href="#p"/><rect class="f r" width="59.3" height="59.3"/><text class="h" x="29.65" y="-3">845923</text><text class="e"><tspan x="-3.5" y="2.9">0</tspan><tspan x="-3.5" y="26.6">20</tspan><tspan x="-3.5" y="50.3">40</tspan></text><text class="m"><tspan x="0.6" y="68.5">0</tspan><tspan x="24.3" y="68.5">20</tspan><tspan x="48" y="68.5">40</tspan></text></g>
<g transform="translate(1413.6,452.4)"><rect width="59.3" height="59.3" fill="#e8e8e8"/><use href="#p"/><rect class="f r" width="59.3" height="59.3"/><text class="h" x="29.65" y="-3">845924</text><text class="e"><tspan x="-3.5" y="2.9">0</tspan><tspan x="-3.5" y="26.6">20</tspan><tspan x="-3.5" y="50.3">40</tspan></text><text class="m"><tspan x="0.6" y="68.5">0</tspan><tspan x="24.3" y="68.5">20</tspan><tspan x="48" y="68.5">40</tspan></text></g>
<g transform="translate(1500.3,452.4)"><rect width="59.3" height="59.3" fill="#f4f4f4"/><use href="#p"/><rect class="f r" width="59.3" height="59.3"/><text class="h" x="29.65" y="-3">845925</text><text class="e"><tspan x="-3.5" y="2.9">0</tspan><tspan x="-3.5" y="26.6">20</tspan><tspan x="-3.5" y="50.3">40</tspan></text><text class="m"><tspan x="0.6" y="68.5">0</tspan><tspan x="24.3" y="68.5">20</tspan><tspan x="48" y="68.5">40</tspan></text></g>

<g transform="translate(806.7,537.2)"><rect width="59.3" height="59.3" fill="#f1f1f1"/><use href="#p"/><rect class="f r" width="59.3" height="59.3"/><text class="h" x="29.65" y="-3">845926</text><text class="e"><tspan x="-3.5" y="2.9">0</tspan><tspan x="-3.5" y="26.6">20</tspan><tspan x="-3.5" y="50.3">40</tspan></text><text class="m"><tspan x="0.6" y="68.5">0</tspan><tspan x="24.3" y="68.5">20</tspan><tspan x="48" y="68.5">40</tspan></text></g>
<g transform="translate(893.4,537.2)"><rect width="59.3" height="59.3" fill="#ececec"/><use href="#p"/><rect class="f r" width="59.3" height="59.3"/><text class="h" x="29.65" y="-3">845927</text><text class="e"><tspan x="-3.5" y="2.9">0</tspan><tspan x="-3.5" y="26.6">20</tspan><tspan x="-3.5" y="50.3">40</tspan></text><text class="m"><tspan x="0.6" y="68.5">0</tspan><tspan x="24.3" y="68.5">20</tspan><tspan x="48" y="68.5">40</tspan></text></g>
<g transform="translate(980.1,537.2)"><rect width="59.3" height="59.3" fill="#f4f4f4"/><use href="#p"/><rect class="f r" width="59.3" height="59.3"/><text class="h" x="29.65" y="-3">845928</text><text class="e"><tspan x="-3.5" y="2.9">0</tspan><tspan x="-3.5" y="26.6">20</tspan><tspan x="-3.5" y="50.3">40</tspan></text><text class="m"><tspan x="0.6" y="68.5">0</tspan><tspan x="24.3" y="68.5">20</tspan><tspan x="48" y="68.5">40</tspan></text></g>
<g transform="translate(1066.8,537.2)"><rect width="59.3" height="59.3" fill="#f4f4f4"/><use href="#p"/><rect class="f r" width="59.3" height="59.3"/><text class="h" x="29.65" y="-3">845929</text><text class="e"><tspan x="-3.5" y="2.9">0</tspan><tspan x="-3.5" y="26.6">20</tspan><tspan x="-3.5" y="50.3">40</tspan></text><text class="m"><tspan x="0.6" y="68.5">0</tspan><tspan x="24.3" y="68.5">20</tspan><tspan x="48" y="68.5">40</tspan></text></g>
<g transform="translate(1153.5,537.2)"><rect width="59.3" height="59.3" fill="#f1f1f1"/><use href="#p"/><rect class="f r" width="59.3" height="59.3"/><text class="h" x="29.65" y="-3">845930</text><text class="e"><tspan x="-3.5" y="2.9">0</tspan><tspan x="-3.5" y="26.6">20</tspan><tspan x="-3.5" y="50.3">40</tspan></text><text class="m"><tspan x="0.6" y="68.5">0</tspan><tspan x="24.3" y="68.5">20</tspan><tspan x="48" y="68.5">40</tspan></text></g>
<g transform="translate(1240.2,537.2)"><rect width="59.3" height="59.3" fill="#efefef"/><use href="#p"/><rect class="f r" width="59.3" height="59.3"/><text class="h" x="29.65" y="-3">845931</text><text class="e"><tspan x="-3.5" y="2.9">0</tspan><tspan x="-3.5" y="26.6">20</tspan><tspan x="-3.5" y="50.3">40</tspan></text><text class="m"><tspan x="0.6" y="68.5">0</tspan><tspan x="24.3" y="68.5">20</tspan><tspan x="48" y="68.5">40</tspan></text></g>
<g transform="translate(1326.9,537.2)"><rect width="59.3" height="59.3" fill="#f3f3f3"/><use href="#p"/><rect class="f r" width="59.3" height="59.3"/><text class="h" x="29.65" y="-3">845932</text><text class="e"><tspan x="-3.5" y="2.9">0</tspan><tspan x="-3.5" y="26.6">20</tspan><tspan x="-3.5" y="50.3">40</tspan></text><text class="m"><tspan x="0.6" y="68.5">0</tspan><tspan x="24.3" y="68.5">20</tspan><tspan x="48" y="68.5">40</tspan></text></g>
<g transform="translate(1413.6,537.2)"><rect width="59.3" height="59.3" fill="#f6f6f6"/><use href="#p"/><rect class="f r" width="59.3" height="59.3"/><text class="h" x="29.65" y="-3">845933</text><text class="e"><tspan x="-3.5" y="2.9">0</tspan><tspan x="-3.5" y="26.6">20</tspan><tspan x="-3.5" y="50.3">40</tspan></text><text class="m"><tspan x="0.6" y="68.5">0</tspan><tspan x="24.3" y="68.5">20</tspan><tspan x="48" y="68.5">40</tspan></text></g>
<g transform="translate(1500.3,537.2)"><rect width="59.3" height="59.3" fill="#f4f4f4"/><use href="#p"/><rect class="f r" width="59.3" height="59.3"/><text class="h" x="29.65" y="-3">845934</text><text class="e"><tspan x="-3.5" y="2.9">0</tspan><tspan x="-3.5" y="26.6">20</tspan><tspan x="-3.5" y="50.3">40</tspan></text><text class="m"><tspan x="0.6" y="68.5">0</tspan><tspan x="24.3" y="68.5">20</tspan><tspan x="48" y="68.5">40</tspan></text></g>

<g transform="translate(806.7,622)"><rect width="59.3" height="59.3" fill="#f4f4f4"/><use href="#p"/><rect class="f r" width="59.3" height="59.3"/><text class="h" x="29.65" y="-3">845935</text><text class="e"><tspan x="-3.5" y="2.9">0</tspan><tspan x="-3.5" y="26.6">20</tspan><tspan x="-3.5" y="50.3">40</tspan></text><text class="m"><tspan x="0.6" y="68.5">0</tspan><tspan x="24.3" y="68.5">20</tspan><tspan x="48" y="68.5">40</tspan></text></g>
<g transform="translate(893.4,622)"><rect width="59.3" height="59.3" fill="#f1f1f1"/><use href="#p"/><rect class="f r" width="59.3" height="59.3"/><text class="h" x="29.65" y="-3">845936</text><text class="e"><tspan x="-3.5" y="2.9">0</tspan><tspan x="-3.5" y="26.6">20</tspan><tspan x="-3.5" y="50.3">40</tspan></text><text class="m"><tspan x="0.6" y="68.5">0</tspan><tspan x="24.3" y="68.5">20</tspan><tspan x="48" y="68.5">40</tspan></text></g>
<g transform="translate(980.1,622)"><rect width="59.3" height="59.3" fill="#eeeeee"/><use href="#p"/><rect class="f r" width="59.3" height="59.3"/><text class="h" x="29.65" y="-3">845937</text><text class="e"><tspan x="-3.5" y="2.9">0</tspan><tspan x="-3.5" y="26.6">20</tspan><tspan x="-3.5" y="50.3">40</tspan></text><text class="m"><tspan x="0.6" y="68.5">0</tspan><tspan x="24.3" y="68.5">20</tspan><tspan x="48" y="68.5">40</tspan></text></g>
<g transform="translate(1066.8,622)"><rect width="59.3" height="59.3" fill="#f1f1f1"/><use href="#p"/><rect class="f r" width="59.3" height="59.3"/><text class="h" x="29.65" y="-3">845938</text><text class="e"><tspan x="-3.5" y="2.9">0</tspan><tspan x="-3.5" y="26.6">20</tspan><tspan x="-3.5" y="50.3">40</tspan></text><text class="m"><tspan x="0.6" y="68.5">0</tspan><tspan x="24.3" y="68.5">20</tspan><tspan x="48" y="68.5">40</tspan></text></g>
<g transform="translate(1153.5,622)"><rect width="59.3" height="59.3" fill="#f3f3f3"/><use href="#p"/><rect class="f r" width="59.3" height="59.3"/><text class="h" x="29.65" y="-3">845939</text><text class="e"><tspan x="-3.5" y="2.9">0</tspan><tspan x="-3.5" y="26.6">20</tspan><tspan x="-3.5" y="50.3">40</tspan></text><text class="m"><tspan x="0.6" y="68.5">0</tspan><tspan x="24.3" y="68.5">20</tspan><tspan x="48" y="68.5">40</tspan></text></g>
<g transform="translate(1240.2,622)"><rect width="59.3" height="59.3" fill="#f3f3f3"/><use href="#p"/><rect class="f r" width="59.3" height="59.3"/><text class="h" x="29.65" y="-3">845940</text><text class="e"><tspan x="-3.5" y="2.9">0</tspan><tspan x="-3.5" y="26.6">20</tspan><tspan x="-3.5" y="50.3">40</tspan></text><text class="m"><tspan x="0.6" y="68.5">0</tspan><tspan x="24.3" y="68.5">20</tspan><tspan x="48" y="68.5">40</tspan></text></g>
<g transform="translate(1326.9,622)"><rect width="59.3" height="59.3" fill="#f1f1f1"/><use href="#p"/><rect class="f r" width="59.3" height="59.3"/><text class="h" x="29.65" y="-3">845941</text><text class="e"><tspan x="-3.5" y="2.9">0</tspan><tspan x="-3.5" y="26.6">20</tspan><tspan x="-3.5" y="50.3">40</tspan></text><text class="m"><tspan x="0.6" y="68.5">0</tspan><tspan x="24.3" y="68.5">20</tspan><tspan x="48" y="68.5">40</tspan></text></g>
<g transform="translate(1413.6,622)"><rect width="59.3" height="59.3" fill="#efefef"/><use href="#p"/><rect class="f r" width="59.3" height="59.3"/><text class="h" x="29.65" y="-3">845942</text><text class="e"><tspan x="-3.5" y="2.9">0</tspan><tspan x="-3.5" y="26.6">20</tspan><tspan x="-3.5" y="50.3">40</tspan></text><text class="m"><tspan x="0.6" y="68.5">0</tspan><tspan x="24.3" y="68.5">20</tspan><tspan x="48" y="68.5">40</tspan></text></g>
<g transform="translate(1500.3,622)"><rect width="59.3" height="59.3" fill="#f6f6f6"/><use href="#p"/><rect class="f r" width="59.3" height="59.3"/><text class="h" x="29.65" y="-3">845943</text><text class="e"><tspan x="-3.5" y="2.9">0</tspan><tspan x="-3.5" y="26.6">20</tspan><tspan x="-3.5" y="50.3">40</tspan></text><text class="m"><tspan x="0.6" y="68.5">0</tspan><tspan x="24.3" y="68.5">20</tspan><tspan x="48" y="68.5">40</tspan></text></g>

<g transform="translate(806.7,706.8)"><rect width="59.3" height="59.3" fill="#f3f3f3"/><use href="#p"/><rect class="f r" width="59.3" height="59.3"/><text class="h" x="29.65" y="-3">845944</text><text class="e"><tspan x="-3.5" y="2.9">0</tspan><tspan x="-3.5" y="26.6">20</tspan><tspan x="-3.5" y="50.3">40</tspan></text><text class="m"><tspan x="0.6" y="68.5">0</tspan><tspan x="24.3" y="68.5">20</tspan><tspan x="48" y="68.5">40</tspan></text></g>
<g transform="translate(893.4,706.8)"><rect width="59.3" height="59.3" fill="#f4f4f4"/><use href="#p"/><rect class="f r" width="59.3" height="59.3"/><text class="h" x="29.65" y="-3">845945</text><text class="e"><tspan x="-3.5" y="2.9">0</tspan><tspan x="-3.5" y="26.6">20</tspan><tspan x="-3.5" y="50.3">40</tspan></text><text class="m"><tspan x="0.6" y="68.5">0</tspan><tspan x="24.3" y="68.5">20</tspan><tspan x="48" y="68.5">40</tspan></text></g>
<g transform="translate(980.1,706.8)"><rect width="59.3" height="59.3" fill="#efefef"/><use href="#p"/><rect class="f r" width="59.3" height="59.3"/><text class="h" x="29.65" y="-3">845946</text><text class="e"><tspan x="-3.5" y="2.9">0</tspan><tspan x="-3.5" y="26.6">20</tspan><tspan x="-3.5" y="50.3">40</tspan></text><text class="m"><tspan x="0.6" y="68.5">0</tspan><tspan x="24.3" y="68.5">20</tspan><tspan x="48" y="68.5">40</tspan></text></g>
<g transform="translate(1066.8,706.8)"><rect width="59.3" height="59.3" fill="#f1f1f1"/><use href="#p"/><rect class="f" width="59.3" height="59.3"/><text class="h" x="29.65" y="-3">845947</text><text class="e"><tspan x="-3.5" y="2.9">0</tspan><tspan x="-3.5" y="26.6">20</tspan><tspan x="-3.5" y="50.3">40</tspan></text><text class="m"><tspan x="0.6" y="68.5">0</tspan><tspan x="24.3" y="68.5">20</tspan><tspan x="48" y="68.5">40</tspan></text></g>
<g transform="translate(1153.5,706.8)"><rect width="59.3" height="59.3" fill="#f4f4f4"/><use href="#p"/><rect class="f" width="59.3" height="59.3"/><text class="h" x="29.65" y="-3">845948</text><text class="e"><tspan x="-3.5" y="2.9">0</tspan><tspan x="-3.5" y="26.6">20</tspan><tspan x="-3.5" y="50.3">40</tspan></text><text class="m"><tspan x="0.6" y="68.5">0</tspan><tspan x="24.3" y="68.5">20</tspan><tspan x="48" y="68.5">40</tspan></text></g>
</svg>
<script>
(function(){
var F=[55700,60500,63500,61800,60300,60500,61000,62600,61800,60400,64500,60100,61200,59000,62000,58900,58700,59900,56500,57000,57600,55700,54000,54600,52700,52100,54000,58400,54100,52200,50400,49900,49200,48400,48100,48200,48900,47700,48800,48000,48400,48500,50700,50000,49500,49100,47800,49800,47900,47600,49600,51100,52000,52700,53400,53200,53200,52800,54700,56700,57900,59000,58000,60300,59200,60300,60800,61100,60900,62600,62200,64300,62500,62300,61300,62400,63400];
var S=[306.6,282,285,291,274.6,292.6,307,290,286.6,280.6,272.3,284.3,287.7,294.9,304.9,284.9,283,284,290,309.4,293.7,288.3,280,290,275.1,274,267.4,218.9,234.9,246.9,264.6,265.7,239.7,252.3,260,268.9,250.9,255.7,248.6,245.7,258,245.7,252.3,260,261.7,257.4,273.4,274.6,280.6,281,285.4,247.4,248.6,275,266.3,250.9,280.6,284.9,275,272.9,275.7,307,295.4,301.4,288,264,289.7,286,294.3,282.6,292,314.3,298.9,314.9,289.4,290.6,300];
var nd={};[0,1,2,3,4,5,6,7,8,9,10,11,12,13,14,15,16,17,18,20,21,22,23,24,26,27,28,29,31,32,36,37,38,39,41,42,45,75,76].forEach(function(i){nd[i]=1;});
var mk={21:1,61:1,75:1,76:1};
var g=document.getElementById('dots'),NS='http://www.w3.org/2000/svg';
function yF(f){return 634.7+(65000-f)*86.8/15000;}
function yM(f){var m=31-2.5*Math.log10(f);return 771.7+(m-19)*91.2/0.3;}
function yS(s){return 907.5+(300-s)*52/50;}
function dot(x,y,c){var e=document.createElementNS(NS,'circle');e.setAttribute('cx',x.toFixed(2));e.setAttribute('cy',y.toFixed(2));e.setAttribute('r','1.9');e.setAttribute('fill',c);g.appendChild(e);}
var B='#1f77b4',O='#ff7f0e';
[[90.7,nd],[468.2,mk]].forEach(function(p){
  [false,true].forEach(function(orange){
    for(var i=0;i<77;i++){
      var isO=!!p[1][i]; if(isO!==orange)continue;
      var x=p[0]+i*3.796,c=orange?O:B;
      dot(x,yF(F[i]),c);dot(x,yM(F[i]),c);dot(x,yS(S[i]),c);
    }
  });
});
})();
</script>
</body></html>
